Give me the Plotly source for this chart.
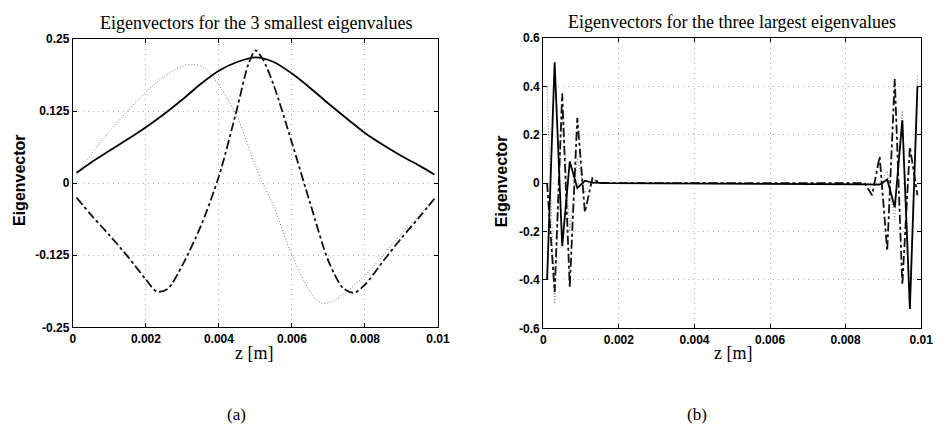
import plotly.graph_objects as go

# ---------------- Data (a): 3 smallest eigenvalues ----------------
z_solid_a = [0.0001, 0.0005, 0.001, 0.0015, 0.002, 0.0025, 0.003, 0.0035, 0.004, 0.0045,
             0.005, 0.0055, 0.006, 0.0065, 0.007, 0.0075, 0.008, 0.0085, 0.009, 0.0095, 0.0099]
v_solid_a = [0.018, 0.036, 0.056, 0.076, 0.097, 0.120, 0.145, 0.172, 0.195, 0.210,
             0.218, 0.210, 0.190, 0.165, 0.138, 0.112, 0.087, 0.066, 0.047, 0.030, 0.015]

z_dashdot_a = [0.0001, 0.0005, 0.001, 0.0015, 0.002, 0.0023, 0.0026, 0.003, 0.0035, 0.004,
               0.0045, 0.0048, 0.005, 0.0052, 0.0055, 0.006, 0.0065, 0.007, 0.0074, 0.0077,
               0.008, 0.0085, 0.009, 0.0095, 0.0099]
v_dashdot_a = [-0.025, -0.055, -0.090, -0.127, -0.167, -0.188, -0.183, -0.142, -0.075, 0.012,
               0.130, 0.205, 0.230, 0.215, 0.170, 0.070, -0.035, -0.135, -0.182, -0.190,
               -0.176, -0.135, -0.095, -0.058, -0.027]

z_dotted_a = [0.0001, 0.0005, 0.001, 0.0015, 0.002, 0.0025, 0.003, 0.0033, 0.0036, 0.004,
              0.0045, 0.005, 0.0052, 0.0055, 0.006, 0.0065, 0.0068, 0.0071, 0.0075, 0.008,
              0.0085, 0.009, 0.0095, 0.0099]
v_dotted_a = [0.015, 0.050, 0.090, 0.125, 0.158, 0.185, 0.203, 0.206, 0.200, 0.170,
              0.115, 0.030, 0.000, -0.040, -0.125, -0.188, -0.208, -0.205, -0.188, -0.160,
              -0.125, -0.088, -0.055, -0.027]

# ---------------- Data (b): 3 largest eigenvalues ----------------
z_b = [0.0001, 0.0003, 0.0005, 0.0007, 0.0009, 0.0011, 0.0013, 0.0015, 0.0017,
       0.0085, 0.0087, 0.0089, 0.0091, 0.0093, 0.0095, 0.0097, 0.0099]
v_solid_b = [-0.40, 0.50, -0.26, 0.09, -0.02, 0.01, 0.002, 0.0, 0.0,
             -0.005, -0.006, -0.006, 0.015, -0.10, 0.26, -0.52, 0.40]
v_dashdot_b = [0.00, -0.45, 0.37, -0.43, 0.27, -0.12, 0.02, 0.0, 0.0,
               0.0, -0.05, 0.11, -0.28, 0.43, -0.42, 0.15, -0.05]
v_dotted_b = [0.40, -0.50, 0.30, -0.20, 0.10, -0.04, 0.01, 0.0, 0.0,
              0.0, 0.0, 0.0, 0.05, -0.15, 0.30, -0.45, 0.45]

x_ticks = [0, 0.002, 0.004, 0.006, 0.008, 0.01]
x_ticktext = ["0", "0.002", "0.004", "0.006", "0.008", "0.01"]
ya_ticks = [-0.25, -0.125, 0, 0.125, 0.25]
ya_ticktext = ["-0.25", "-0.125", "0", "0.125", "0.25"]
yb_ticks = [-0.6, -0.4, -0.2, 0, 0.2, 0.4, 0.6]
yb_ticktext = ["-0.6", "-0.4", "-0.2", "0", "0.2", "0.4", "0.6"]

W, H = 947, 437

fig = go.Figure()

# panel (a)
fig.add_trace(go.Scatter(x=z_dotted_a, y=v_dotted_a, mode="lines", line=dict(color="#777", width=1, dash="1px,2px", shape="spline", smoothing=0.8), xaxis="x", yaxis="y", showlegend=False))
fig.add_trace(go.Scatter(x=z_dashdot_a, y=v_dashdot_a, mode="lines", line=dict(color="#111", width=1.8, dash="dashdot", shape="spline", smoothing=0.8), xaxis="x", yaxis="y", showlegend=False))
fig.add_trace(go.Scatter(x=z_solid_a, y=v_solid_a, mode="lines", line=dict(color="#000", width=1.8, shape="spline", smoothing=0.8), xaxis="x", yaxis="y", showlegend=False))

# panel (b)
fig.add_trace(go.Scatter(x=z_b, y=v_dotted_b, mode="lines", line=dict(color="#777", width=1, dash="1px,2px"), xaxis="x2", yaxis="y2", showlegend=False))
fig.add_trace(go.Scatter(x=z_b, y=v_dashdot_b, mode="lines", line=dict(color="#111", width=1.8, dash="dashdot"), xaxis="x2", yaxis="y2", showlegend=False))
fig.add_trace(go.Scatter(x=z_b, y=v_solid_b, mode="lines", line=dict(color="#000", width=1.8), xaxis="x2", yaxis="y2", showlegend=False))

tickfont = dict(family="Liberation Sans, Arial, sans-serif", size=12, color="#000", weight="bold")
axis_common = dict(showline=True, linecolor="#000", linewidth=1.2, mirror="ticks",
                   ticks="inside", ticklen=4, tickcolor="#000",
                   showgrid=True, gridcolor="#b0b0b0", griddash="1px,4px", gridwidth=1,
                   zeroline=False, tickfont=tickfont)


def px_x(p):
    return p / W


def px_y(p):
    return (H - p) / H


fig.update_layout(
    width=W, height=H, margin=dict(l=0, r=0, t=0, b=0),
    paper_bgcolor="white", plot_bgcolor="white",
    xaxis=dict(domain=[px_x(71), px_x(442)], range=[0, 0.01], tickvals=x_ticks, ticktext=x_ticktext, anchor="y", **axis_common),
    yaxis=dict(domain=[px_y(331), px_y(33)], range=[-0.25, 0.25], tickvals=ya_ticks, ticktext=ya_ticktext, anchor="x", **axis_common),
    xaxis2=dict(domain=[px_x(549), px_x(933)], range=[0, 0.01], tickvals=x_ticks, ticktext=x_ticktext, anchor="y2", **axis_common),
    yaxis2=dict(domain=[px_y(332), px_y(32)], range=[-0.6, 0.6], tickvals=yb_ticks, ticktext=yb_ticktext, anchor="x2", **axis_common),
)

serif = "Liberation Serif, Times New Roman, serif"
sans = "Liberation Sans, Arial, sans-serif"
ann = [
    dict(text="Eigenvectors for the 3 smallest eigenvalues", x=px_x(257), y=px_y(17), font=dict(family=serif, size=18, color="#000")),
    dict(text="Eigenvectors for the three largest eigenvalues", x=px_x(741), y=px_y(16), font=dict(family=serif, size=18, color="#000")),
    dict(text="z [m]", x=px_x(255), y=px_y(357), font=dict(family=serif, size=18, color="#000")),
    dict(text="z [m]", x=px_x(742), y=px_y(357), font=dict(family=serif, size=18, color="#000")),
    dict(text="Eigenvector", x=px_x(17), y=px_y(179), textangle=-90, font=dict(family=sans, size=16, color="#000", weight="bold")),
    dict(text="Eigenvector", x=px_x(506), y=px_y(180), textangle=-90, font=dict(family=sans, size=16, color="#000", weight="bold")),
    dict(text="(a)", x=px_x(237), y=px_y(421), font=dict(family=serif, size=17, color="#000")),
    dict(text="(b)", x=px_x(705), y=px_y(421), font=dict(family=serif, size=17, color="#000")),
]
for a in ann:
    a.update(xref="paper", yref="paper", showarrow=False, xanchor="center", yanchor="middle")
fig.update_layout(annotations=ann)

fig.write_html("out.html")
